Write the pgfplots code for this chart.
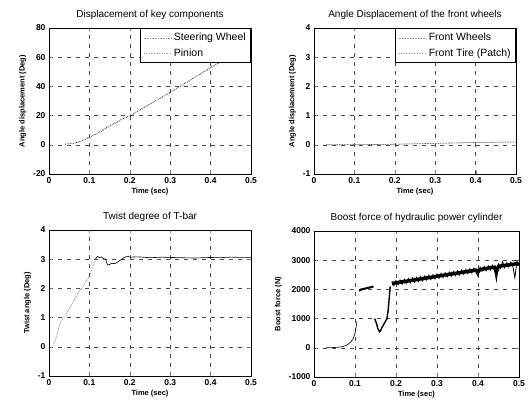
\documentclass[border=0pt]{standalone}
\usepackage{fontspec}
\setmainfont{Liberation Sans}
\usepackage{pgfplots}
\pgfplotsset{compat=1.18}
\pgfplotsset{
  mlab/.style={
    width=202pt, height=146pt, scale only axis,
    xmin=0, xmax=0.5, xtick={0,0.1,0.2,0.3,0.4,0.5},
    grid=major,
    major grid style={black!70, dash pattern=on 4pt off 5pt, line width=0.5pt},
    tick align=inside, xtick pos=both, ytick pos=both,
    major tick length=3pt,
    axis line style={line width=0.8pt},
    tick label style={font=\fontsize{8.5}{10}\selectfont\bfseries},
    title style={font=\fontsize{10}{12}\selectfont, yshift=-1pt},
    xlabel style={font=\fontsize{7.5}{9}\selectfont\bfseries, yshift=2pt},
    ylabel style={font=\fontsize{7.5}{9}\selectfont\bfseries},
    xlabel={Time (sec)},
    /pgf/number format/assume math mode=true,
    /pgf/number format/1000 sep={},
    xticklabel style={/pgf/number format/fixed, /pgf/number format/precision=1},
    scaled ticks=false,
    legend style={draw=black, line width=0.6pt, font=\fontsize{10.5}{12}\selectfont,
      at={(1,1)}, anchor=north east, legend cell align=left, row sep=2pt,
      inner sep=3pt},
    legend image post style={black!40},
    legend image code/.code={\draw[#1] (0pt,0pt) -- (28pt,0pt);},
  }
}
\begin{document}
\begin{tikzpicture}
\useasboundingbox (0,0) rectangle (528pt,-403pt);

% top left
\begin{axis}[mlab, at={(49pt,-28pt)}, anchor=north west,
  title={Displacement of key components},
  ylabel={Angle displacement (Deg)},
  ymin=-20, ymax=80, ytick={-20,0,20,40,60,80}]
\addplot[black, densely dotted, line width=0.6pt] coordinates {
  (0.04,0.5) (0.06,1) (0.08,2.5) (0.1,5) (0.12,8) (0.15,13) (0.18,17.5)
  (0.2,20) (0.25,28) (0.3,36) (0.35,44.5) (0.4,53) (0.45,61) (0.5,70)};
\addlegendentry{Steering Wheel}
\addplot[black!60, dotted, line width=0.6pt] coordinates {
  (0.04,0.3) (0.06,0.8) (0.08,2.2) (0.09,4) (0.1,6) (0.12,7.5) (0.15,12.5) (0.18,17)
  (0.2,19.5) (0.25,27.5) (0.3,35.5) (0.35,44) (0.4,52.5) (0.45,60.5) (0.5,69.5)};
\addlegendentry{Pinion}
\end{axis}

% top right
\begin{axis}[mlab, at={(314pt,-28pt)}, anchor=north west,
  title={Angle Displacement of the front wheels},
  ylabel={Angle displacement (Deg)},
  ymin=-1, ymax=4, ytick={-1,0,1,2,3,4}]
\addplot[black, densely dotted, line width=0.6pt] coordinates {
  (0.03,0) (0.1,0.005) (0.15,0.01) (0.2,0.02) (0.25,0.035) (0.3,0.05)
  (0.35,0.065) (0.4,0.08) (0.45,0.09) (0.5,0.1)};
\addlegendentry{Front Wheels}
\addplot[black!60, dotted, line width=0.6pt] coordinates {
  (0.03,0) (0.1,0.003) (0.15,0.008) (0.2,0.015) (0.25,0.03) (0.3,0.045)
  (0.35,0.06) (0.4,0.075) (0.45,0.085) (0.5,0.095)};
\addlegendentry{Front Tire (Patch)}
\end{axis}

% bottom left
\begin{axis}[mlab, at={(49pt,-230pt)}, anchor=north west,
  title={Twist degree of T-bar},
  ylabel={Twist angle (Deg)},
  ymin=-1, ymax=4, ytick={-1,0,1,2,3,4}]
\addplot[black!70, densely dotted, line width=0.6pt] coordinates {
  (0.012,0.1) (0.02,0.4) (0.025,0.7) (0.035,1.0) (0.04,1.05) (0.05,1.3)
  (0.06,1.55) (0.07,1.8) (0.08,2.0) (0.09,2.2) (0.1,2.4) (0.11,2.8) (0.115,3.0)};
\addplot[black, line width=0.6pt] coordinates {
  (0.115,3.0) (0.12,3.1) (0.125,3.05) (0.13,3.08) (0.135,3.02) (0.14,3.0)
  (0.145,2.8) (0.15,2.82) (0.155,2.86) (0.16,2.85) (0.165,2.86) (0.17,2.9)
  (0.175,2.95) (0.18,3.0) (0.185,3.05) (0.19,3.08) (0.195,3.1) (0.2,3.07)
  (0.22,3.08) (0.25,3.05) (0.28,3.07) (0.3,3.06) (0.33,3.05) (0.36,3.04)
  (0.4,3.06) (0.42,3.05) (0.45,3.07) (0.48,3.06) (0.5,3.06)};
\end{axis}

% bottom right
\begin{axis}[mlab, at={(314pt,-231pt)}, anchor=north west, width=205pt,
  title={Boost force of hydraulic power cylinder},
  ylabel={Boost force (N)},
  ymin=-1000, ymax=4000, ytick={-1000,0,1000,2000,3000,4000}]
\addplot[black, line width=0.6pt] coordinates {
  (0.03,0) (0.04,5) (0.05,10) (0.06,20) (0.07,40) (0.08,90) (0.09,200)
  (0.095,300) (0.1,500) (0.105,900)};
\addplot[black, line width=2pt] coordinates {
  (0.11,1950) (0.115,2000) (0.12,2010) (0.125,2030) (0.13,2050) (0.135,2060)
  (0.14,2080) (0.145,2100)};
\addplot[black, line width=1.4pt] coordinates {
  (0.148,1000) (0.152,850) (0.156,650) (0.16,550) (0.163,600) (0.166,700)
  (0.17,800) (0.174,900) (0.178,1000) (0.181,1300) (0.184,1800) (0.186,2100)};
% band centre
\addplot[black, line width=3.5pt] coordinates {
  (0.19,2200) (0.2,2225) (0.25,2335) (0.3,2450) (0.35,2560) (0.395,2660)
  (0.4,2600) (0.405,2680) (0.44,2760) (0.445,2600) (0.45,2790) (0.49,2870)
  (0.495,2880) (0.5,2850)};
\addplot[black, line width=0.8pt] coordinates {
  (0.190,2280) (0.195,2131) (0.200,2303) (0.205,2154) (0.210,2325) (0.215,2176)
  (0.220,2348) (0.225,2199) (0.230,2370) (0.235,2222) (0.240,2393) (0.245,2244)
  (0.250,2415) (0.255,2267) (0.260,2438) (0.265,2289) (0.270,2461) (0.275,2312)
  (0.280,2483) (0.285,2335) (0.290,2506) (0.295,2357) (0.300,2528) (0.305,2380)
  (0.310,2551) (0.315,2402) (0.320,2574) (0.325,2425) (0.330,2596) (0.335,2447)
  (0.340,2619) (0.345,2470) (0.350,2641) (0.355,2493) (0.360,2664) (0.365,2515)
  (0.370,2687) (0.375,2538) (0.380,2709) (0.385,2560) (0.390,2732) (0.395,2583)
  (0.400,2450) (0.405,2760) (0.410,2617) (0.415,2788) (0.420,2640) (0.425,2811)
  (0.430,2662) (0.435,2833) (0.440,2685) (0.445,2300) (0.450,2867) (0.455,2719)
  (0.460,2950) (0.465,2741) (0.470,2913) (0.475,2764) (0.480,2935) (0.485,2786)
  (0.490,2400) (0.495,2969) (0.500,2820)};
\end{axis}
\end{tikzpicture}
\end{document}
